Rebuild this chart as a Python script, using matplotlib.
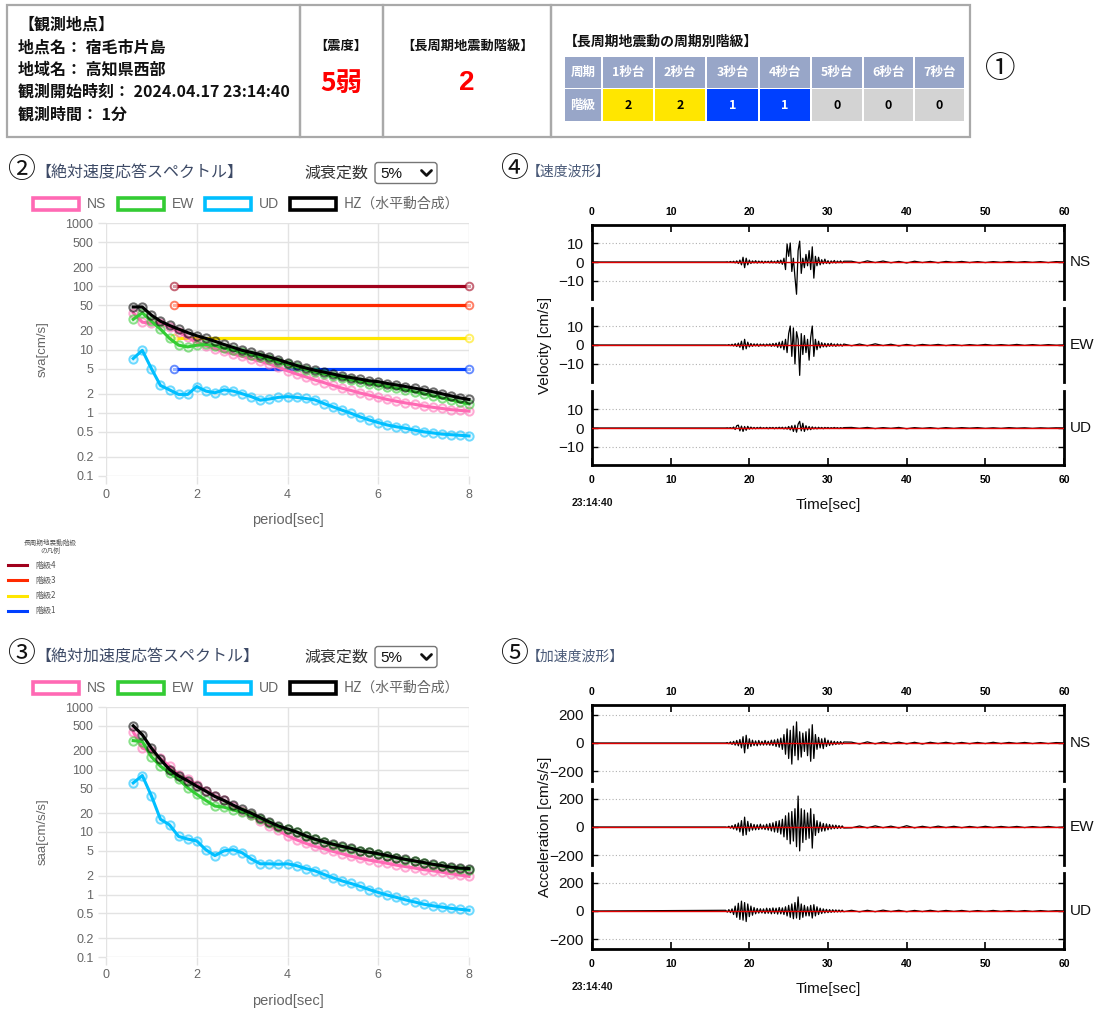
import numpy as np
import matplotlib
matplotlib.use('Agg')
import matplotlib.pyplot as plt
from matplotlib.patches import Rectangle, FancyBboxPatch
from matplotlib.colors import to_rgba

# ---------------- data ----------------
station_lines = ['【観測地点】', '地点名： 宿毛市片島', '地域名： 高知県西部',
                 '観測開始時刻： 2024.04.17 23:14:40', '観測時間： 1分']
intensity = '5弱'
lp_class = '2'
period_cols = ['周期', '1秒台', '2秒台', '3秒台', '4秒台', '5秒台', '6秒台', '7秒台']
period_class = [2, 2, 1, 1, 0, 0, 0]

periods = [0.6, 0.8, 1.0, 1.2, 1.4, 1.6, 1.8, 2.0, 2.2, 2.4, 2.6, 2.8, 3.0, 3.2, 3.4, 3.6,
           3.8, 4.0, 4.2, 4.4, 4.6, 4.8, 5.0, 5.2, 5.4, 5.6, 5.8, 6.0, 6.2, 6.4, 6.6, 6.8,
           7.0, 7.2, 7.4, 7.6, 7.8, 8.0]

sva_NS = [38, 27, 26, 26.5, 23, 19, 15.5, 13, 11.5, 10.3, 9.3, 8.5, 7.8, 7.1, 6.5, 5.9, 5.2, 4.6,
          4.1, 3.7, 3.3, 3.0, 2.7, 2.45, 2.25, 2.05, 1.9, 1.75, 1.62, 1.52, 1.43, 1.36, 1.28, 1.22,
          1.17, 1.12, 1.09, 1.06]
sva_EW = [30, 38, 28, 21, 15, 11.7, 11, 11.7, 12, 11.5, 10.5, 9.8, 9.0, 8.3, 7.6, 7.0, 6.3, 5.8,
          5.3, 4.8, 4.4, 4.1, 3.8, 3.5, 3.3, 3.1, 2.9, 2.75, 2.6, 2.45, 2.3, 2.15, 2.0, 1.85,
          1.72, 1.6, 1.48, 1.38]
sva_UD = [7.2, 9.7, 5.0, 2.7, 2.3, 1.95, 1.95, 2.6, 2.2, 2.07, 2.3, 2.2, 2.0, 1.8, 1.58, 1.65, 1.75,
          1.8, 1.75, 1.68, 1.6, 1.4, 1.24, 1.1, 0.98, 0.86, 0.77, 0.7, 0.64, 0.6, 0.57, 0.53, 0.5,
          0.48, 0.46, 0.45, 0.44, 0.43]
sva_HZ = [47, 47, 35, 28, 24, 21, 18.5, 16.5, 15, 13.5, 12, 10.8, 9.7, 9.0, 8.3, 7.6, 6.9, 6.2,
          5.6, 5.1, 4.7, 4.4, 4.1, 3.8, 3.6, 3.4, 3.2, 3.1, 2.9, 2.75, 2.6, 2.45, 2.3, 2.15, 2.0,
          1.85, 1.72, 1.62]

saa_NS = [400, 220, 195, 150, 113, 83, 70, 57, 46, 38, 32, 26, 22, 18.5, 15, 12.6, 10.6, 8.7,
          7.5, 6.6, 5.9, 5.4, 4.9, 4.5, 4.1, 3.8, 3.55, 3.35, 3.15, 2.95, 2.8, 2.65, 2.5, 2.4,
          2.28, 2.15, 2.05, 1.95]
saa_EW = [290, 280, 160, 113, 88, 70, 51, 40, 32, 26, 25, 22.5, 21, 18.5, 16.4, 14, 12, 11,
          10, 8.5, 7.6, 6.9, 6.3, 5.8, 5.4, 5.0, 4.7, 4.4, 4.1, 3.85, 3.6, 3.4, 3.2, 3.0, 2.85,
          2.7, 2.58, 2.5]
saa_UD = [61, 80, 38, 16, 13, 8.5, 7.7, 7.2, 5.2, 4.2, 5.0, 5.2, 4.65, 3.7, 3.1, 3.1, 3.05, 3.1,
          2.9, 2.6, 2.4, 2.1, 1.85, 1.65, 1.5, 1.35, 1.2, 1.08, 0.98, 0.9, 0.82, 0.76, 0.7, 0.66,
          0.63, 0.6, 0.58, 0.56]
saa_HZ = [500, 360, 220, 145, 100, 79, 66, 54, 45, 37, 32, 27, 23, 20, 17, 14.5, 12.5, 11.2,
          10, 8.7, 7.7, 7.0, 6.4, 5.9, 5.5, 5.0, 4.75, 4.5, 4.2, 3.9, 3.65, 3.45, 3.25, 3.05,
          2.9, 2.75, 2.65, 2.6]

level_names = ['階級4', '階級3', '階級2', '階級1']
level_values = [100, 50, 15, 5]
level_periods = [1.5, 8.0]

# waveform samples: main part 17.0-32.0 s every 0.2 s, tail 33-60 s every 1 s
t_main = [round(17.0 + 0.2 * i, 1) for i in range(76)]
t_tail = [float(s) for s in range(33, 61)]

vel_NS = [0.0, 0.1, -0.2, 0.3, -0.3, 0.4, -0.5, 0.6, -0.8, 1.0, -1.5, 2.5, -3.0, 2.0, -1.5, 1.0,
          -0.8, 0.6, -0.5, 0.7, -0.6, 0.5, -0.4, 0.5, -0.6, 0.4, -0.3, 0.4, -0.5, 0.6, -0.5, 0.4,
          -0.6, 0.8, -0.7, 1.0, -1.2, 2.0, -4.0, 9.5, 3.0, 10.0, -5.0, 2.0, -8.0, -17.0, 6.0, 11.0,
          -6.0, 2.0, -3.0, 4.0, -2.0, 6.0, -4.0, 8.0, -8.5, 3.0, -2.0, 2.5, -1.5, 1.2, -1.0, 1.5,
          -0.8, 0.7, -0.9, 0.6, -0.5, 0.8, -0.6, 0.5, -0.4, 0.6, -0.5, 0.4]
vel_EW = [0.0, -0.1, 0.2, -0.3, 0.4, -0.5, 0.7, -0.8, 1.0, -1.2, 2.0, -2.5, 3.0, -2.0, 1.5, -1.0,
          0.8, -0.7, 0.6, -0.5, 0.6, -0.7, 0.5, -0.4, 0.5, -0.6, 0.5, -0.4, 0.6, -0.7, 0.8, -0.6,
          1.0, -1.2, 1.5, -1.5, 2.0, -2.5, 3.0, -4.0, 6.0, 10.0, -6.0, 9.0, -10.0, 7.0, 3.0, -16.0,
          6.0, -5.0, 5.0, -4.0, 3.0, -8.0, 4.0, 10.0, -6.0, 3.0, -2.5, 2.0, -1.5, 1.2, -1.0, 0.9,
          -1.0, 0.8, -0.7, 0.9, -0.6, 0.5, -0.7, 0.6, -0.5, 0.4, -0.6, 0.5]
vel_UD = [0.0, 0.1, -0.1, 0.2, -0.3, 0.5, -0.8, 1.2, 1.5, -1.5, 1.0, -1.8, 0.8, -1.2, 0.9, -0.6,
          0.5, -0.4, 0.3, -0.4, 0.3, -0.3, 0.4, -0.3, 0.2, -0.3, 0.3, -0.4, 0.3, -0.2, 0.3, -0.4,
          0.3, -0.3, 0.4, -0.3, 0.4, -0.5, 0.4, -0.6, 0.8, -1.0, 1.2, -1.8, 1.5, -2.2, 2.0, 3.5,
          -1.5, 2.5, -1.8, 1.2, -1.0, 0.8, -0.9, 0.6, -0.5, 0.4, -0.5, 0.4, -0.3, 0.3, -0.4, 0.3,
          -0.2, 0.3, -0.3, 0.2, -0.2, 0.3, -0.2, 0.2, -0.3, 0.2, -0.2, 0.2]
vel_NS_tail = [0.4, -0.5, 0.6, -0.3, 0.5, -0.4, 0.3, -0.5, 0.4, -0.3, 0.3, -0.4, 0.3, -0.2,
               0.3, -0.3, 0.2, -0.3, 0.2, -0.2, 0.3, -0.2, 0.2, -0.2, 0.2, -0.3, 0.2, 0.0]
vel_EW_tail = [-0.4, 0.5, -0.4, 0.6, -0.3, 0.4, -0.5, 0.3, -0.4, 0.3, -0.2, 0.3, -0.3, 0.2,
               -0.3, 0.2, -0.2, 0.3, -0.2, 0.2, -0.2, 0.3, -0.2, 0.2, -0.2, 0.2, -0.1, 0.0]
vel_UD_tail = [0.3, -0.2, 0.3, -0.3, 0.2, -0.2, 0.3, -0.4, 0.2, -0.2, 0.2, -0.3, 0.2, -0.2,
               0.2, -0.1, 0.2, -0.2, 0.1, -0.2, 0.2, -0.1, 0.1, -0.2, 0.1, -0.1, 0.1, 0.0]

acc_NS = [0, 3, -5, 8, -10, 12, -15, 18, -20, 25, -35, 45, -70, 55, -40, 30, -25, 20, -18, 15,
          -20, 18, -15, 12, -15, 18, -14, 12, -16, 20, -18, 22, -25, 28, -30, 35, -45, 60, -80, 100,
          -110, 90, -150, 120, -90, 150, -120, 80, -100, 70, -60, 80, -90, 100, -130, 130, -110, 60,
          -45, 40, -35, 30, -40, 35, -25, 20, -18, 15, -14, 12, -11, 10, -9, 10, -8, 7]
acc_EW = [0, -3, 5, -8, 10, -14, 18, -22, 28, -35, 45, -60, 70, -55, 40, -30, 25, -22, 18, -20,
          16, -18, 20, -15, 14, -18, 20, -22, 25, -28, 30, -35, 40, -38, 45, -50, 55, -70, 80, -90,
          100, -120, 110, -100, 130, -140, 220, -170, 130, -110, 120, -90, 100, -80, 130, -150, 90,
          -60, 45, -40, 35, -30, 25, -28, 22, -20, 18, -15, 14, -12, 13, -11, 10, -9, 8, -7]
acc_UD = [5, -8, 10, -12, 15, -25, 35, -45, 55, -60, 70, -65, 60, -75, 50, -40, 35, -30, 25, -20,
          18, -15, 16, -14, 15, -18, 20, -16, 18, -20, 22, -18, 20, -22, 25, -20, 22, -25, 30, -35,
          40, -45, 50, -55, 60, -50, 100, -60, 50, -45, 40, -35, 30, -35, 40, -50, 45, -35, 30, -25,
          20, -18, 15, -14, 12, -12, 10, -10, 9, -8, 8, -7, 7, -6, 6, -5]
acc_NS_tail = [6, -7, 8, -6, 7, -5, 6, -6, 5, -7, 5, -4, 5, -5, 4, -5, 4, -4, 5, -4, 4, -3, 4,
               -4, 3, -4, 3, 0]
acc_EW_tail = [-6, 7, -6, 8, -5, 6, -7, 9, -6, 5, -5, 6, -4, 5, -5, 4, -4, 5, -4, 4, -3, 4, -4,
               3, -3, 4, -3, 0]
acc_UD_tail = [5, -6, 5, -5, 6, -4, 5, -5, 4, -4, 5, -4, 4, -3, 4, -4, 3, -3, 4, -3, 3, -3, 3,
               -3, 3, -2, 2, 0]

# ---------------- styling ----------------
W, H = 1101, 1009
JP = ['Noto Sans CJK JP', 'DejaVu Sans']
SANS = ['Liberation Sans', 'DejaVu Sans']
plt.rcParams['font.family'] = JP
plt.rcParams['axes.unicode_minus'] = True

C_NS, C_EW, C_UD, C_HZ = '#ff69b4', '#33cc33', '#00bfff', '#000000'
LEVEL_COLORS = ['#a0001c', '#ff2a00', '#ffe600', '#0040ff']
CLASS_BG = {0: '#d3d3d3', 1: '#0040ff', 2: '#ffe600', 3: '#ff2a00', 4: '#a0001c'}
CLASS_FG = {0: '#000000', 1: '#ffffff', 2: '#000000', 3: '#ffffff', 4: '#ffffff'}
HEAD_BG = '#98a6c8'
GRID = '#e3e3e3'
TICKC = '#666666'

fig = plt.figure(figsize=(W / 100, H / 100), dpi=100)
bg = fig.add_axes([0, 0, 1, 1])
bg.set_xlim(0, W)
bg.set_ylim(H, 0)
bg.axis('off')


def px_axes(x0, y0, x1, y1):
    return fig.add_axes([x0 / W, 1 - y1 / H, (x1 - x0) / W, (y1 - y0) / H])


# ---------------- header box ----------------
for x0, x1 in [(7, 300), (300, 383), (383, 551), (551, 970)]:
    bg.add_patch(Rectangle((x0, 5), x1 - x0, 132, fill=False, ec='#a9a9a9', lw=1.6))
for i, line in enumerate(station_lines):
    bg.text(18, 25 + i * 22.3, line, fontsize=11.5, fontweight='bold', color='#111111',
            va='center', ha='left')
bg.text(341, 46, '【震度】', fontsize=9.5, fontweight='bold', ha='center', va='center', color='#111')
bg.text(341, 83, intensity, fontsize=19, fontweight='bold', ha='center', va='center', color='#ff0000')
bg.text(467, 46, '【長周期地震動階級】', fontsize=9.5, fontweight='bold', ha='center', va='center',
        color='#111')
bg.text(467, 83, lp_class, fontsize=20, fontweight='bold', ha='center', va='center', color='#ff0000',
        family=SANS)
bg.text(564, 42, '【長周期地震動の周期別階級】', fontsize=10, fontweight='bold', ha='left', va='center',
        color='#111')

col_edges = [564, 602, 654, 706, 759, 811, 863, 914, 965]
row_edges = [56, 88.5, 122]
for j, name in enumerate(period_cols):
    x0, x1 = col_edges[j], col_edges[j + 1]
    bg.add_patch(Rectangle((x0 + 0.8, row_edges[0] + 0.8), x1 - x0 - 1.6, row_edges[1] - row_edges[0] - 1.6,
                           fc=HEAD_BG, ec='none'))
    bg.text((x0 + x1) / 2, (row_edges[0] + row_edges[1]) / 2, name, fontsize=9, fontweight='bold',
            color='white', ha='center', va='center')
    if j == 0:
        fc, fg, label = HEAD_BG, 'white', '階級'
    else:
        c = period_class[j - 1]
        fc, fg, label = CLASS_BG[c], CLASS_FG[c], str(c)
    bg.add_patch(Rectangle((x0 + 0.8, row_edges[1] + 0.8), x1 - x0 - 1.6, row_edges[2] - row_edges[1] - 1.6,
                           fc=fc, ec='none'))
    bg.text((x0 + x1) / 2, (row_edges[1] + row_edges[2]) / 2, label, fontsize=9, fontweight='bold',
            color=fg, ha='center', va='center')

bg.text(1000, 70, '①', fontsize=22, ha='center', va='center', color='#111')


# ---------------- spectra ----------------
def spectrum(y_top, y_bot, series, ylabel, title, title_y, circ, show_levels):
    bg.text(21, title_y - 3, circ, fontsize=20, ha='center', va='center', color='#111')
    bg.text(35, title_y, title, fontsize=11.5, ha='left', va='center', color='#3d4a66')
    bg.text(304, title_y, '減衰定数', fontsize=11.5, ha='left', va='center', color='#333')
    bg.add_patch(FancyBboxPatch((375, title_y - 10.5), 62, 21, boxstyle='round,pad=0,rounding_size=3',
                                ec='#767676', fc='white', lw=1.0))
    bg.text(380, title_y + 0.5, '5%', fontsize=11, ha='left', va='center', color='#111', family=SANS)
    bg.plot([421.5, 426.5, 431.5], [title_y - 2.5, title_y + 2.5, title_y - 2.5], color='#111', lw=2.0,
            solid_capstyle='round')
    ly = title_y + 31
    items = [('NS', C_NS, 33), ('EW', C_EW, 118), ('UD', C_UD, 205), ('HZ（水平動合成）', C_HZ, 290)]
    for name, col, x0 in items:
        bg.add_patch(Rectangle((x0, ly - 6), 46, 12, fc='white', ec=col, lw=2.6))
        bg.text(x0 + 54, ly, name, fontsize=10, ha='left', va='center', color='#666',
                family=SANS if name in ('NS', 'EW', 'UD') else JP)

    ax = px_axes(106, y_top, 469, y_bot)
    ax.set_yscale('log')
    ax.set_xlim(0, 8)
    ax.set_ylim(0.1, 1000)
    yt = [0.1, 0.2, 0.5, 1, 2, 5, 10, 20, 50, 100, 200, 500, 1000]
    ax.set_yticks(yt)
    ax.set_yticklabels(['0.1', '0.2', '0.5', '1', '2', '5', '10', '20', '50', '100', '200', '500', '1000'],
                       family=SANS, fontsize=9, color=TICKC)
    ax.yaxis.set_minor_locator(matplotlib.ticker.NullLocator())
    ax.set_xticks([0, 2, 4, 6, 8])
    ax.set_xticklabels(['0', '2', '4', '6', '8'], family=SANS, fontsize=9, color=TICKC)
    ax.tick_params(length=6, color=GRID, width=1, pad=3)
    ax.grid(True, color=GRID, lw=1)
    for s in ax.spines.values():
        s.set_visible(False)
    ax.set_axisbelow(True)
    ax.set_ylabel(ylabel, family=SANS, fontsize=9.5, color=TICKC, labelpad=12)
    ax.set_xlabel('period[sec]', family=SANS, fontsize=10.5, color=TICKC, labelpad=9)

    if show_levels:
        for val, col in zip(level_values, LEVEL_COLORS):
            ax.plot(level_periods, [val, val], color=col, lw=2.3, marker='o', ms=5.5,
                    mfc=to_rgba('white', 0.6), mec=to_rgba(col, 0.6), mew=1.4, clip_on=False, zorder=2)
    for vals, col in series:
        ax.plot(periods, vals, color=col, lw=2.2, marker='o', ms=6, mfc=to_rgba(col, 0.12),
                mec=to_rgba(col, 0.55), mew=1.4, clip_on=False, zorder=3)
    return ax


spectrum(223, 476, [(sva_NS, C_NS), (sva_EW, C_EW), (sva_UD, C_UD), (sva_HZ, C_HZ)],
         'sva[cm/s]', '【絶対速度応答スペクトル】', 173, '②', True)
spectrum(707, 957, [(saa_NS, C_NS), (saa_EW, C_EW), (saa_UD, C_UD), (saa_HZ, C_HZ)],
         'saa[cm/s/s]', '【絶対加速度応答スペクトル】', 657, '③', False)

# small level legend
bg.text(50, 543, '長周期地震動階級', fontsize=4.8, ha='center', va='center', color='#555')
bg.text(50, 551, 'の凡例', fontsize=4.8, ha='center', va='center', color='#555')
for k, (name, col) in enumerate(zip(level_names, LEVEL_COLORS)):
    yy = 565 + k * 15.3
    bg.plot([8, 27], [yy, yy], color=col, lw=2.2)
    bg.text(35, yy, name, fontsize=5.8, ha='left', va='center', color='#555')


# ---------------- waveforms ----------------
def waveform(traces, centers, half, lim, yt, ytl, ylabel, title, title_y, circ):
    bg.text(514, title_y - 3, circ, fontsize=20, ha='center', va='center', color='#111')
    bg.text(527, title_y, title, fontsize=10, ha='left', va='center', color='#4a5a78')
    n = len(traces)
    for i, (name, main, tail) in enumerate(traces):
        c = centers[i]
        ax = px_axes(592, c - half, 1064, c + half)
        ax.set_facecolor('none')
        t = [0.0] + t_main + t_tail
        v = [0.0] + main + tail
        ax.set_xlim(0, 60)
        ax.set_ylim(-lim, lim)
        for g in yt:
            if g != 0:
                ax.axhline(g, color='#b0b0b0', lw=0.8, ls=(0, (1, 2)), zorder=1)
        ax.plot(t, v, color='black', lw=0.9, zorder=2)
        ax.axhline(0, color='#e00000', lw=1.0, zorder=3)
        ax.set_yticks(yt)
        ax.set_yticklabels(ytl, family=SANS, fontsize=11, color='#111')
        ax.tick_params(axis='y', direction='in', length=4, width=1, left=True, right=True, pad=6)
        for side in ('left', 'right'):
            ax.spines[side].set_linewidth(2)
        ax.spines['top'].set_visible(i == 0)
        ax.spines['bottom'].set_visible(i == n - 1)
        ax.spines['top'].set_linewidth(2)
        ax.spines['bottom'].set_linewidth(2)
        xt = [0, 10, 20, 30, 40, 50, 60]
        if i == 0:
            ax.xaxis.tick_top()
            ax.set_xticks(xt)
            ax.set_xticklabels([str(x) for x in xt], family=SANS, fontsize=7.5, fontweight='bold')
            ax.tick_params(axis='x', direction='in', length=5, width=1.2, pad=6)
        elif i == n - 1:
            ax.set_xticks(xt)
            ax.set_xticklabels([str(x) for x in xt], family=SANS, fontsize=7.5, fontweight='bold')
            ax.tick_params(axis='x', direction='in', length=5, width=1.2, pad=7)
        else:
            ax.set_xticks([])
        bg.text(1070, c, name, fontsize=11, ha='left', va='center', color='#111', family=SANS)
    mid = centers[1]
    bg.text(545, mid, ylabel, fontsize=11, rotation=90, ha='center', va='center', color='#111',
            family=SANS)
    bot = centers[-1] + half
    bg.text(592, bot + 38, '23:14:40', fontsize=7.5, fontweight='bold', ha='center', va='center',
            family=SANS, color='#111')
    bg.text(828, bot + 40, 'Time[sec]', fontsize=11, ha='center', va='center', family=SANS,
            color='#111')


waveform([('NS', vel_NS, vel_NS_tail), ('EW', vel_EW, vel_EW_tail), ('UD', vel_UD, vel_UD_tail)],
         [262, 345, 428], 37, 19.5, [-10, 0, 10], ['\u221210', '0', '10'],
         'Velocity [cm/s]', '【速度波形】', 172, '④')
waveform([('NS', acc_NS, acc_NS_tail), ('EW', acc_EW, acc_EW_tail), ('UD', acc_UD, acc_UD_tail)],
         [743, 827, 911], 38, 270, [-200, 0, 200], ['\u2212200', '0', '200'],
         'Acceleration [cm/s/s]', '【加速度波形】', 657, '⑤')

fig.savefig('out.png', dpi=100)
